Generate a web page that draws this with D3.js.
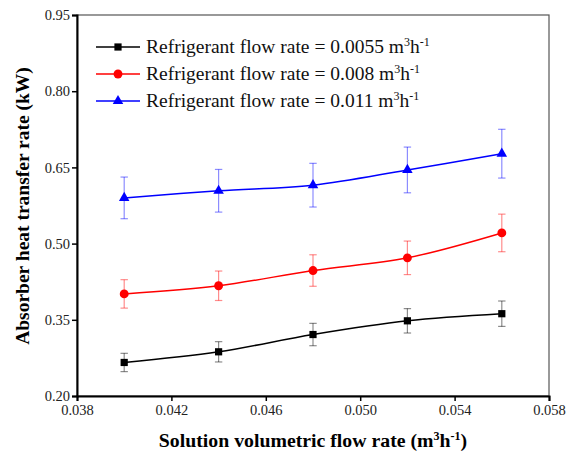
<!DOCTYPE html>
<html lang="en">
<head>
    <script src="https://d3js.org/d3.v7.min.js"></script>
</head>
<style>
    body { margin: 0; background: #fff; }
    text { font-family: "Liberation Serif", "Times New Roman", serif; }
</style>
<body>
<script>
    const w = 568
    const h = 454

    // data
    const xValues = [0.040, 0.044, 0.048, 0.052, 0.056]
    const seriesNames = ["0.0055", "0.008", "0.011"]
    const lowValues = [0.266, 0.287, 0.321, 0.348, 0.362]
    const lowErr = [0.018, 0.020, 0.022, 0.024, 0.025]
    const midValues = [0.401, 0.417, 0.447, 0.472, 0.521]
    const midErr = [0.028, 0.029, 0.031, 0.033, 0.037]
    const highValues = [0.590, 0.604, 0.615, 0.645, 0.677]
    const highErr = [0.041, 0.042, 0.043, 0.045, 0.048]
    const xTicks = [0.038, 0.042, 0.046, 0.050, 0.054, 0.058]
    const yTicks = [0.20, 0.35, 0.50, 0.65, 0.80, 0.95]

    const colors = ["#000000", "#ff0000", "#0000ff"]
    const symbols = [d3.symbolSquare, d3.symbolCircle, d3.symbolTriangle]
    const symSize = [52, 62, 48]
    const allValues = [lowValues, midValues, highValues]
    const allErr = [lowErr, midErr, highErr]

    const mLeft = 77, mRight = 549, mTop = 15, mBottom = 396

    var svg = d3.select("body")
        .append("svg")
        .attr("width", w)
        .attr("height", h)

    let x = d3.scaleLinear().domain([0.038, 0.058]).range([mLeft, mRight])
    let y = d3.scaleLinear().domain([0.20, 0.95]).range([mBottom, mTop])

    // frame (top/right)
    svg.append("rect")
        .attr("x", mLeft).attr("y", mTop)
        .attr("width", mRight - mLeft).attr("height", mBottom - mTop)
        .attr("fill", "none").attr("stroke", "#555").attr("stroke-width", 1.2)

    // axes
    let xAxis = svg.append("g")
        .attr("transform", `translate(0,${mBottom})`)
        .call(d3.axisBottom(x).tickValues(xTicks).tickFormat(d3.format(".3f")).tickSize(5).tickPadding(4))
    let yAxis = svg.append("g")
        .attr("transform", `translate(${mLeft},0)`)
        .call(d3.axisLeft(y).tickValues(yTicks).tickFormat(d3.format(".2f")).tickSize(5).tickPadding(2))

    for (const ax of [xAxis, yAxis]) {
        ax.attr("font-family", null).attr("font-size", null)
        ax.select(".domain").attr("stroke", "#000").attr("stroke-width", 2)
        ax.selectAll(".tick line").attr("stroke", "#000").attr("stroke-width", 1.5)
        ax.selectAll(".tick text")
            .style("font-family", "'Liberation Serif', serif")
            .style("font-size", "14.5px")
            .attr("fill", "#222")
    }

    // axis titles
    svg.append("text")
        .attr("x", 313)
        .attr("y", 447)
        .attr("text-anchor", "middle")
        .style("font-size", "19.8px")
        .attr("font-weight", "bold")
        .html('Solution volumetric flow rate (m<tspan dy="-7" font-size="12">3</tspan><tspan dy="7">h</tspan><tspan dy="-7" font-size="12">-1</tspan><tspan dy="7">)</tspan>')

    svg.append("text")
        .attr("transform", `translate(29,206) rotate(-90)`)
        .attr("text-anchor", "middle")
        .style("font-size", "19.5px")
        .attr("font-weight", "bold")
        .text("Absorber heat transfer rate (kW)")

    const line = d3.line()
        .x((d, i) => x(xValues[i]))
        .y(d => y(d))
        .curve(d3.curveCatmullRom.alpha(0.5))

    allValues.forEach((vals, s) => {
        const g = svg.append("g")
        const c = colors[s]

        // error bars
        vals.forEach((v, i) => {
            const e = allErr[s][i]
            const cx = x(xValues[i])
            g.append("line")
                .attr("x1", cx).attr("x2", cx)
                .attr("y1", y(v - e)).attr("y2", y(v + e))
                .attr("stroke", c).attr("stroke-opacity", 0.45).attr("stroke-width", 1.2)
            for (const yy of [v - e, v + e]) {
                g.append("line")
                    .attr("x1", cx - 3.7).attr("x2", cx + 3.7)
                    .attr("y1", y(yy)).attr("y2", y(yy))
                    .attr("stroke", c).attr("stroke-opacity", 0.45).attr("stroke-width", 1.2)
            }
        })

        g.append("path")
            .datum(vals)
            .attr("d", line)
            .attr("fill", "none")
            .attr("stroke", c)
            .attr("stroke-width", 1.5)

        g.selectAll("path.mark")
            .data(vals)
            .enter()
            .append("path")
            .attr("class", "mark")
            .attr("transform", (d, i) => `translate(${x(xValues[i])},${y(d)})`)
            .attr("d", d3.symbol().type(symbols[s]).size(symSize[s]))
            .attr("fill", c)
    })

    // legend
    const legendY = [47, 74, 101]
    seriesNames.forEach((name, s) => {
        const ly = legendY[s]
        svg.append("line")
            .attr("x1", 96).attr("x2", 140)
            .attr("y1", ly).attr("y2", ly)
            .attr("stroke", colors[s]).attr("stroke-width", 1.5)
        svg.append("path")
            .attr("transform", `translate(118,${ly})`)
            .attr("d", d3.symbol().type(symbols[s]).size(symSize[s]))
            .attr("fill", colors[s])
        svg.append("text")
            .attr("x", 146)
            .attr("y", ly + 6)
            .style("font-size", "19.5px")
            .attr("fill", "#111")
            .html(`Refrigerant flow rate = ${name} m<tspan dy="-7" font-size="12">3</tspan><tspan dy="7">h</tspan><tspan dy="-7" font-size="12">-1</tspan>`)
    })
</script>
</body>
</html>
